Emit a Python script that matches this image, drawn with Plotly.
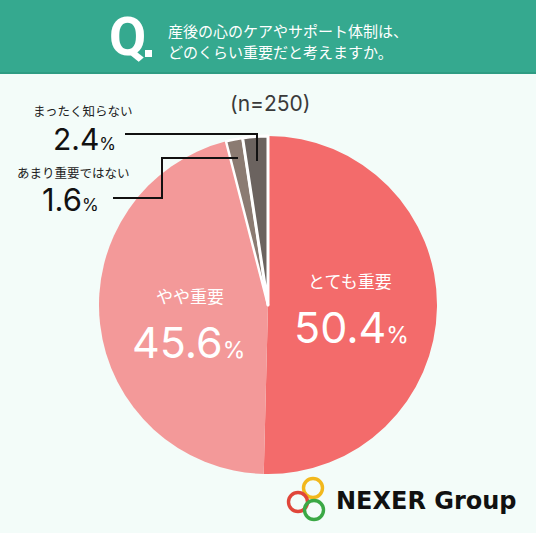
import plotly.graph_objects as go

# survey answers, clockwise from 12 o'clock
labels = ["とても重要", "やや重要", "あまり重要ではない", "まったく知らない"]
values = [50.4, 45.6, 1.6, 2.4]
colors = ["#F36B6B", "#F39999", "#8B7B72", "#6B635F"]
line_widths = [0, 0, 2.5, 3]
sample_size = 250
question = ["産後の心のケアやサポート体制は、", "どのくらい重要だと考えますか。"]

W, H = 536, 533
JP = "Noto Sans CJK JP"
NUM = "Inter, Noto Sans CJK JP"


def px(x):
    return x / W


def py(y):
    return 1 - y / H


def pct(v, small):
    return f"{v}<span style='font-size:{small}px'>%</span>"


fig = go.Figure()
fig.add_trace(go.Pie(
    labels=labels,
    values=values,
    sort=False,
    direction="clockwise",
    rotation=0,
    textinfo="none",
    hoverinfo="label+percent",
    showlegend=False,
    marker=dict(colors=colors, line=dict(color="white", width=line_widths)),
    domain=dict(x=[px(99), px(437)], y=[py(474), py(136)]),
))

shapes = [
    # header band
    dict(type="rect", xref="paper", yref="paper", x0=0, x1=1, y0=py(73), y1=1,
         fillcolor="#35A98F", line_width=0, layer="below"),
    dict(type="rect", xref="paper", yref="paper", x0=0, x1=1, y0=py(74), y1=py(72),
         fillcolor="#2E9C83", line_width=0, layer="below"),
    # square period after the Q
    dict(type="rect", xref="paper", yref="paper", x0=px(145), x1=px(152), y0=py(57), y1=py(50),
         fillcolor="white", line_width=0),
    # leader lines
    dict(type="path", xref="paper", yref="paper",
         path=f"M {px(125)} {py(134)} L {px(257)} {py(134)} L {px(257)} {py(161)}",
         line=dict(color="#111111", width=2)),
    dict(type="path", xref="paper", yref="paper",
         path=f"M {px(113)} {py(198)} L {px(162)} {py(198)} L {px(162)} {py(158)} L {px(238)} {py(158)}",
         line=dict(color="#111111", width=2)),
]

# logo rings
for cx, cy, col in [(313, 488, "#F2B81C"), (298, 502, "#E0463A"), (314, 510, "#3AA845")]:
    shapes.append(dict(type="circle", xref="paper", yref="paper",
                       x0=px(cx - 9.5), x1=px(cx + 9.5), y0=py(cy + 9.5), y1=py(cy - 9.5),
                       line=dict(color=col, width=3.4)))

ann = []


def add(x, y, text, size, color="#222222", family=JP, xanchor="center"):
    ann.append(dict(x=px(x), y=py(y), xref="paper", yref="paper", text=text,
                    showarrow=False, xanchor=xanchor, yanchor="middle",
                    font=dict(size=size, color=color, family=family)))


add(127, 37, "<b>Q</b>", 54, "white", "Roboto")
add(166, 31, question[0], 15, "white", xanchor="left")
add(166, 52, question[1], 15, "white", xanchor="left")

add(270, 104, f"(n={sample_size})", 21, "#3A3A3A", NUM)

add(350, 280, labels[0], 17, "white")
add(351, 327, pct(values[0], 23), 43, "white", NUM)
add(190, 295, labels[1], 17, "white")
add(188, 342, pct(values[1], 23), 43, "white", NUM)

add(83, 110, labels[3], 12.5)
add(84, 139, pct(values[3], 17), 30, "#111111", NUM)
add(73, 172, labels[2], 12.5)
add(70, 199, pct(values[2], 17), 31, "#111111", NUM)

add(334, 501, "<b>NEXER Group</b>", 24, "#111111", "DejaVu Sans", xanchor="left")

fig.update_layout(
    width=W, height=H,
    margin=dict(l=0, r=0, t=0, b=0),
    paper_bgcolor="#F3FCF9",
    plot_bgcolor="#F3FCF9",
    shapes=shapes,
    annotations=ann,
)

fig.write_html("out.html", config={"displayModeBar": False},
               post_script="document.body.style.margin='0';")
